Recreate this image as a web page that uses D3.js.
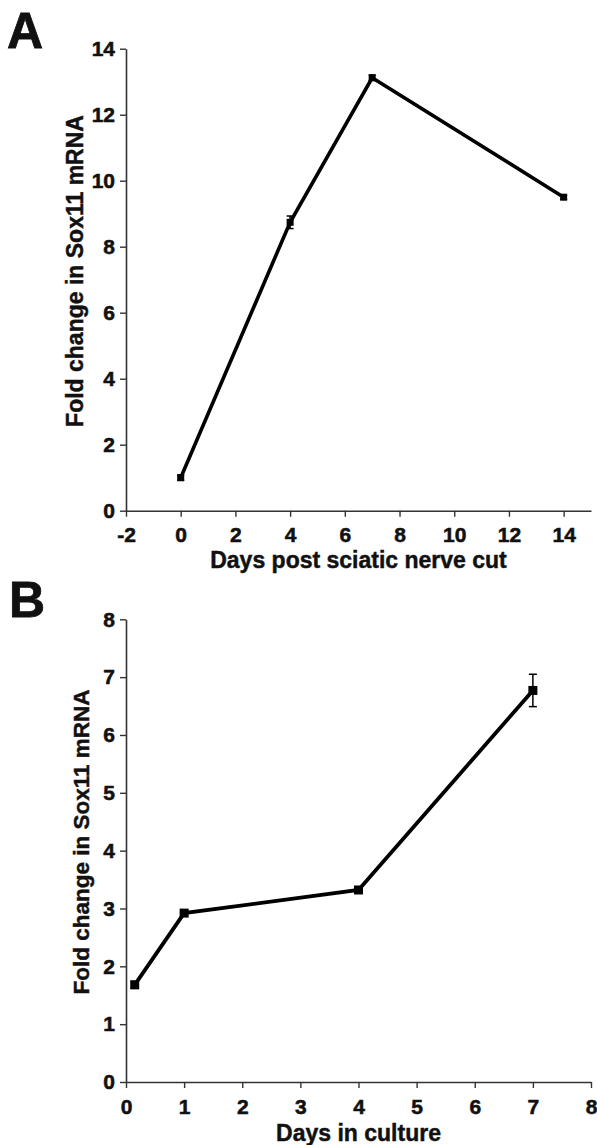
<!DOCTYPE html>
<html>
<head>
<meta charset="utf-8">
<script src="https://cdn.jsdelivr.net/npm/d3@7"></script>
<style>
  html, body { margin: 0; padding: 0; background: #fff; }
  svg { display: block; }
  text { font-family: "Liberation Sans", Arial, sans-serif; font-weight: bold; fill: #111; stroke: #111; stroke-width: 0.45px; }
</style>
</head>
<body>
<svg id="chart" width="597" height="1145"></svg>
<script>
// Panel A: Sox11 mRNA after sciatic nerve cut
const daysA = [0, 4, 7, 14];
const foldA = [1.0, 8.74, 13.12, 9.5];
const errA  = [0.08, 0.19, 0.08, 0.06];
const xTicksA = [-2, 0, 2, 4, 6, 8, 10, 12, 14];
const yTicksA = [0, 2, 4, 6, 8, 10, 12, 14];

// Panel B: Sox11 mRNA in culture
const daysB = [0.15, 1, 4, 7];
const foldB = [1.68, 2.92, 3.32, 6.77];
const errB  = [0.06, 0.05, 0.05, 0.28];
const xTicksB = [0, 1, 2, 3, 4, 5, 6, 7, 8];
const yTicksB = [0, 1, 2, 3, 4, 5, 6, 7, 8];

const yTitle = "Fold change in Sox11 mRNA";

const svg = d3.select("#chart");
const FONT = "'Liberation Sans', Arial, sans-serif";

function styleTicks(sel, size) {
  sel.attr("font-size", null).attr("font-family", null);
  sel.selectAll(".tick text")
    .style("font-size", size + "px")
    .style("font-family", FONT)
    .style("font-weight", "bold")
    .style("fill", "#111")
    .style("stroke", "#111")
    .style("stroke-width", "0.55px");
}

function panel(cfg) {
  const g = svg.append("g");
  const x = d3.scaleLinear().domain(cfg.xDomain).range([cfg.left, cfg.right]);
  const y = d3.scaleLinear().domain(cfg.yDomain).range([cfg.bottom, cfg.top]);
  const fmt = d => String(d);

  // x axis
  const xa = g.append("g").attr("transform", `translate(0,${cfg.bottom})`)
    .call(d3.axisBottom(x).tickValues(cfg.xTicks).tickFormat(fmt).tickSize(6).tickPadding(cfg.xPad).tickSizeOuter(0));
  xa.select(".domain").attr("stroke", "#333").attr("stroke-width", 1.6);
  xa.selectAll(".tick line").attr("stroke", "#333").attr("stroke-width", 1.4);
  styleTicks(xa, cfg.tickFont);

  // y axis
  const ya = g.append("g").attr("transform", `translate(${cfg.left},0)`)
    .call(d3.axisLeft(y).tickValues(cfg.yTicks).tickFormat(fmt).tickSize(6).tickPadding(5).tickSizeOuter(0));
  ya.select(".domain").attr("stroke", "#333").attr("stroke-width", 1.6);
  ya.selectAll(".tick line").attr("stroke", "#333").attr("stroke-width", 1.4);
  styleTicks(ya, cfg.tickFont);

  const data = cfg.xs.map((d, i) => ({x: d, y: cfg.ys[i], e: cfg.es[i]}));

  // line
  g.append("path").datum(data)
    .attr("fill", "none").attr("stroke", "#000").attr("stroke-width", cfg.lineW)
    .attr("stroke-linejoin", "miter")
    .attr("d", d3.line().x(d => x(d.x)).y(d => y(d.y)));

  // error bars
  const eb = g.append("g").selectAll("g").data(data).join("g");
  eb.append("line")
    .attr("x1", d => x(d.x)).attr("x2", d => x(d.x))
    .attr("y1", d => y(d.y + d.e)).attr("y2", d => y(d.y - d.e))
    .attr("stroke", "#000").attr("stroke-width", 1.5);
  eb.append("line")
    .attr("x1", d => x(d.x) - cfg.cap / 2).attr("x2", d => x(d.x) + cfg.cap / 2)
    .attr("y1", d => y(d.y + d.e)).attr("y2", d => y(d.y + d.e))
    .attr("stroke", "#000").attr("stroke-width", 1.5);
  eb.append("line")
    .attr("x1", d => x(d.x) - cfg.cap / 2).attr("x2", d => x(d.x) + cfg.cap / 2)
    .attr("y1", d => y(d.y - d.e)).attr("y2", d => y(d.y - d.e))
    .attr("stroke", "#000").attr("stroke-width", 1.5);

  // markers
  g.append("g").selectAll("rect").data(data).join("rect")
    .attr("x", d => x(d.x) - cfg.mk / 2).attr("y", d => y(d.y) - cfg.mk / 2)
    .attr("width", cfg.mk).attr("height", cfg.mk).attr("fill", "#000");

  // axis titles
  g.append("text")
    .attr("x", (cfg.left + cfg.right) / 2).attr("y", cfg.xTitleY)
    .attr("text-anchor", "middle").style("font-size", cfg.titleFont + "px")
    .text(cfg.xTitle);
  g.append("text")
    .attr("transform", `translate(${cfg.yTitleX},${cfg.yTitleCY}) rotate(-90)`)
    .attr("text-anchor", "middle").style("font-size", cfg.yTitleFont + "px")
    .text(yTitle);

  // panel label
  g.append("text").attr("x", cfg.labelX).attr("y", cfg.labelY)
    .style("font-size", "50px").style("stroke-width", "0.8px").text(cfg.label);
}

panel({
  xDomain: [-2, 15], yDomain: [0, 14],
  left: 126, right: 591, top: 48.7, bottom: 510.7,
  xTicks: xTicksA, yTicks: yTicksA,
  xs: daysA, ys: foldA, es: errA,
  tickFont: 21, xPad: 10, titleFont: 23, yTitleFont: 23,
  lineW: 3.6, mk: 7, cap: 7,
  xTitle: "Days post sciatic nerve cut", xTitleY: 568,
  yTitleX: 83, yTitleCY: 271,
  label: "A", labelX: 7, labelY: 48
});

panel({
  xDomain: [0, 8], yDomain: [0, 8],
  left: 126, right: 591, top: 619.3, bottom: 1082,
  xTicks: xTicksB, yTicks: yTicksB,
  xs: daysB, ys: foldB, es: errB,
  tickFont: 21, xPad: 11, titleFont: 23, yTitleFont: 22.5,
  lineW: 3.8, mk: 9, cap: 8,
  xTitle: "Days in culture", xTitleY: 1141,
  yTitleX: 89, yTitleCY: 842,
  label: "B", labelX: 9, labelY: 617
});
</script>
</body>
</html>
